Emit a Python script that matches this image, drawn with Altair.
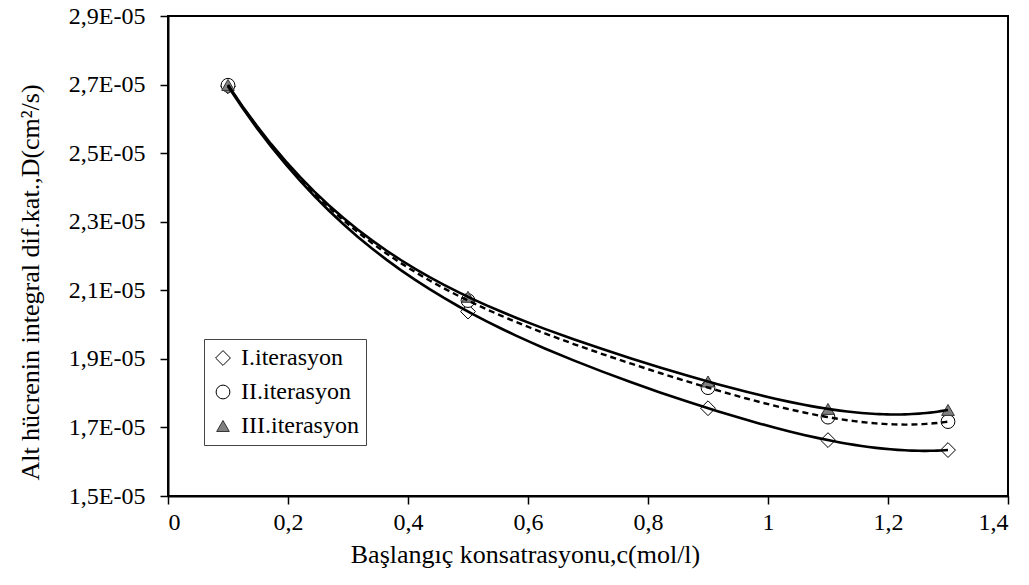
import altair as alt
import pandas as pd

c_vals = [0.1, 0.5, 0.9, 1.1, 1.3]
series_names = ["I.iterasyon", "II.iterasyon", "III.iterasyon"]
d_I = [2.695e-05, 2.038e-05, 1.756e-05, 1.663e-05, 1.634e-05]
d_II = [2.698e-05, 2.070e-05, 1.816e-05, 1.730e-05, 1.717e-05]
d_III = [2.699e-05, 2.081e-05, 1.834e-05, 1.754e-05, 1.751e-05]
y_ticks = [1.5e-05, 1.7e-05, 1.9e-05, 2.1e-05, 2.3e-05, 2.5e-05, 2.7e-05, 2.9e-05]
x_ticks = [0, 0.2, 0.4, 0.6, 0.8, 1.0, 1.2, 1.4]

rows = []
for name, vals in zip(series_names, [d_I, d_II, d_III]):
    for c, d in zip(c_vals, vals):
        rows.append({"c": c, "D": d, "series": name})
df = pd.DataFrame(rows)

FONT = "Liberation Serif"

x_enc = alt.X("c:Q", scale=alt.Scale(domain=[0, 1.4], nice=False, zero=False),
              axis=alt.Axis(values=x_ticks, title="Başlangıç konsatrasyonu,c(mol/l)",
                            labelExpr="replace(format(datum.value, '.1~f'), '.', ',')",
                            titleBaseline="alphabetic", titleX=357, titleY=66,
                            labelPadding=6))
y_enc = alt.Y("D:Q", scale=alt.Scale(domain=[1.5e-05, 2.9e-05], nice=False, zero=False),
              axis=alt.Axis(values=y_ticks, title="Alt hücrenin integral dif.kat.,D(cm²/s)",
                            labelExpr="replace(format(datum.value * 100000, '.1f'), '.', ',') + 'E-05'",
                            titleBaseline="middle", titleX=-138, titleY=266, titleAngle=270,
                            labelPadding=15))

base = alt.Chart(df)

solid_lines = base.transform_filter(
    alt.FieldOneOfPredicate(field="series", oneOf=["I.iterasyon", "III.iterasyon"])
).transform_regression(
    "c", "D", groupby=["series"], method="poly", order=4, extent=[0.1, 1.3]
).mark_line(color="black", strokeWidth=2.6).encode(
    x=x_enc, y=y_enc, detail="series:N",
)

dashed_line = base.transform_filter(
    alt.FieldEqualPredicate(field="series", equal="II.iterasyon")
).transform_regression(
    "c", "D", groupby=["series"], method="poly", order=4, extent=[0.1, 1.3]
).mark_line(color="black", strokeWidth=2.4, strokeDash=[6, 4]).encode(
    x=x_enc, y=y_enc, detail="series:N",
)

points = base.mark_point(filled=True, strokeWidth=1, opacity=1).encode(
    x=x_enc, y=y_enc,
    shape=alt.Shape("series:N",
                    scale=alt.Scale(domain=series_names, range=["diamond", "circle", "triangle-up"]),
                    title=None,
                    legend=alt.Legend(orient="none", legendX=36, legendY=323,
                                      strokeColor="#444444", fillColor="white",
                                      padding=7, rowPadding=10, labelFontSize=24,
                                      labelFont=FONT, symbolStrokeWidth=1,
                                      labelOffset=6, labelColor="black")),
    fill=alt.Fill("series:N",
                  scale=alt.Scale(domain=series_names, range=["white", "white", "#808080"]),
                  title=None),
    stroke=alt.Stroke("series:N",
                      scale=alt.Scale(domain=series_names, range=["black", "black", "#333333"]),
                      title=None),
    size=alt.Size("series:N",
                  scale=alt.Scale(domain=series_names, range=[220, 160, 180]),
                  title=None),
)

chart = alt.layer(points, solid_lines, dashed_line).properties(
    width=840, height=480,
    autosize=alt.AutoSizeParams(type="none"),
    padding={"left": 168, "top": 16, "right": 21, "bottom": 89},
    background="white",
).configure_view(
    stroke="black", strokeWidth=2
).configure_axis(
    labelFont=FONT, titleFont=FONT, labelFontSize=24, titleFontSize=26,
    labelColor="black", titleColor="black", titleFontWeight="normal",
    domainColor="black", domainWidth=2, tickColor="black", tickSize=8, tickWidth=1.5,
    grid=False,
)

chart.save("out.html", embed_options={"renderer": "svg", "actions": False})
